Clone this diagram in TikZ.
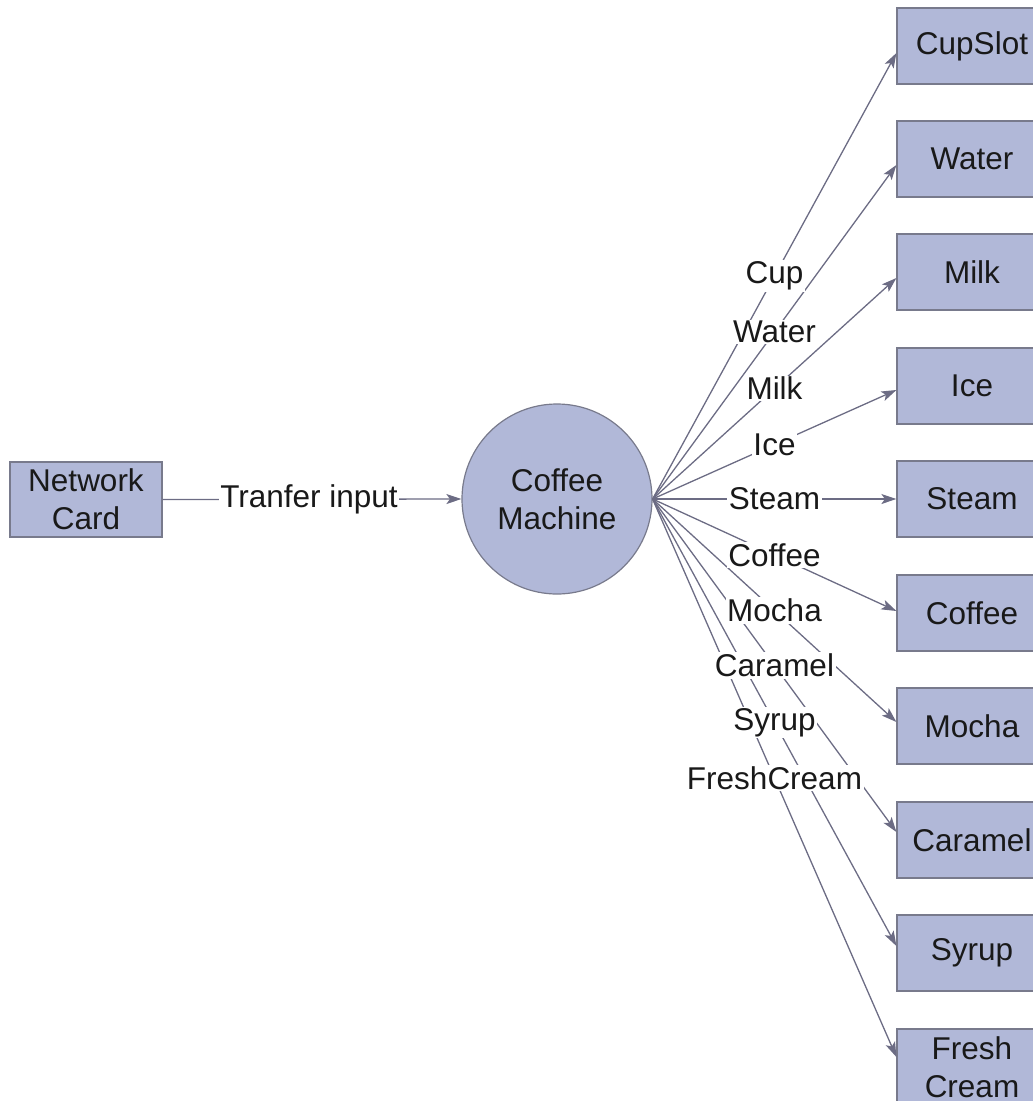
\documentclass[tikz,border=0pt]{standalone}
\usepackage{fontspec}
\setmainfont{Liberation Sans}
\usetikzlibrary{arrows.meta}
\definecolor{boxfill}{RGB}{177,184,216}
\definecolor{boxline}{RGB}{120,122,140}
\definecolor{wire}{RGB}{108,108,132}
\begin{document}
\begin{tikzpicture}[x=1pt,y=-1pt,
  every node/.style={font=\fontsize{31.5}{38}\selectfont, text=black!90},
  unit/.style={rectangle, draw=boxline, line width=1.2pt, fill=boxfill,
    minimum width=150pt, minimum height=76pt, inner sep=0pt, align=center},
  machine/.style={circle, draw=boxline, line width=1.2pt, fill=boxfill,
    minimum size=190pt, inner sep=0pt, align=center},
  wireline/.style={draw=wire, line width=1.3pt,
    -{Stealth[length=15pt, width=10pt, inset=3.5pt]}},
  lbl/.style={fill=white, inner sep=1.5pt}]
\clip (0,0) rectangle (1033,1101);
\useasboundingbox (0,0) rectangle (1033,1101);

% source and central machine
\node[unit, minimum width=152pt, minimum height=75pt] (nc) at (86,499.5) {Network\\Card};
\node[machine] (cm) at (557,499) {Coffee\\Machine};

% output units
\foreach \name/\txt/\yy in {b1/CupSlot/46, b2/Water/159, b3/Milk/272, b4/Ice/386,
    b5/Steam/499, b6/Coffee/613, b7/Mocha/726, b8/Caramel/840, b9/Syrup/953,
    b10/{Fresh\\Cream}/1067}
  \node[unit] (\name) at (972,\yy) {\txt};

% connectors
\draw[wireline] (nc.east) -- node[lbl, pos=0.49] {Tranfer input} (cm.west);

\foreach \name/\dy in {b1/-7, b2/-6, b3/-6, b4/-4, b5/0, b6/2, b7/4, b8/8, b9/7, b10/10}
  \draw[wireline] (cm.east) -- ([yshift=\dy pt]\name.west);

% connector labels on top of all lines
\foreach \name/\dy/\txt in {b1/-7/Cup, b2/-6/Water, b3/-6/Milk, b4/-4/Ice, b5/0/Steam,
    b6/2/Coffee, b7/4/Mocha, b8/8/Caramel, b9/7/Syrup, b10/10/FreshCream}
  \path (cm.east) -- node[lbl, pos=0.5] {\txt} ([yshift=\dy pt]\name.west);
\end{tikzpicture}
\end{document}
